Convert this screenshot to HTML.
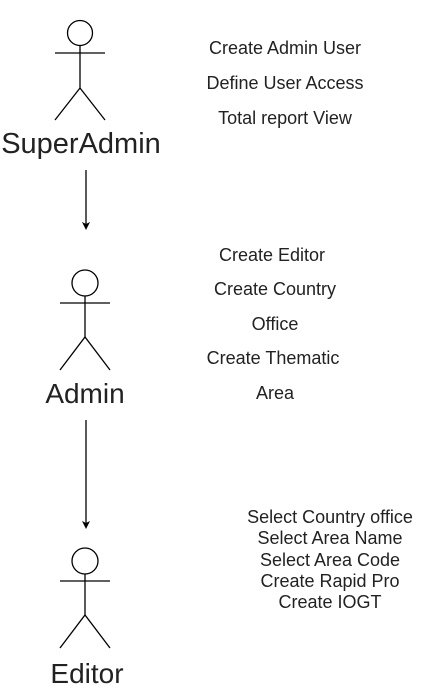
<!DOCTYPE html>
<html><head><style>
html,body{margin:0;padding:0;background:#fff;}
svg{display:block}
text{font-family:"Liberation Sans",Arial,sans-serif;fill:#222}
</style></head><body>
<svg width="436" height="693" viewBox="0 0 436 693" xmlns="http://www.w3.org/2000/svg">
<g stroke="#000" stroke-width="1.3" fill="none">
<circle cx="80" cy="33" r="12.5" fill="#fff"/>
<line x1="55" y1="53" x2="105" y2="53"/><line x1="80" y1="45.5" x2="80" y2="88"/>
<polyline points="55,120 80,88 105,120"/>
<circle cx="85" cy="283" r="13" fill="#fff"/>
<line x1="60" y1="303" x2="110" y2="303"/><line x1="85" y1="296" x2="85" y2="337"/>
<polyline points="60,370 85,337 110,370"/>
<circle cx="85" cy="561" r="13" fill="#fff"/>
<line x1="60" y1="581" x2="110" y2="581"/><line x1="85" y1="574" x2="85" y2="615"/>
<polyline points="60,648 85,615 110,648"/>
<line x1="86" y1="170" x2="86" y2="224"/>
<line x1="86" y1="420" x2="86" y2="523"/>
</g>
<g fill="#000">
<polygon points="82,222 86,230 90,222 86,224"/>
<polygon points="82,521 86,529 90,521 86,523"/>
</g>
<text x="81" y="153" font-size="29" text-anchor="middle">SuperAdmin</text>
<text x="85" y="403" font-size="28" text-anchor="middle">Admin</text>
<text x="87" y="683" font-size="28" text-anchor="middle">Editor</text>
<g font-size="18" text-anchor="middle">
<text x="285" y="54">Create Admin User</text>
<text x="285" y="89">Define User Access</text>
<text x="285" y="124">Total report View</text>
<text x="272" y="261">Create  Editor</text>
<text x="275" y="295">Create Country</text>
<text x="275" y="330">Office</text>
<text x="273" y="364">Create Thematic</text>
<text x="275" y="399">Area</text>
<text x="330" y="523">Select Country office</text>
<text x="330" y="544">Select Area Name</text>
<text x="330" y="566">Select Area Code</text>
<text x="330" y="587">Create Rapid Pro</text>
<text x="330" y="608">Create IOGT</text>
</g>
</svg>
</body></html>
